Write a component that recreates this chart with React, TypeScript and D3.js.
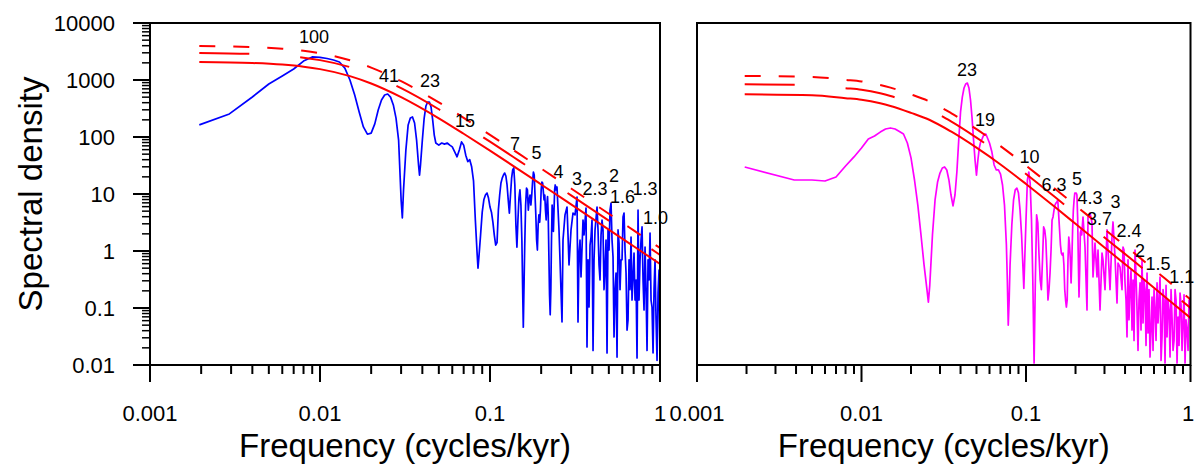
import React from 'react';
import * as d3 from 'd3';

// ---------- DATA ----------
// Left panel spectrum (frequency cycles/kyr, spectral density)
const leftSpectrum: [number, number][] = [
  [0.00195, 163], [0.00293, 254], [0.004, 504], [0.005, 850], [0.006, 1175], [0.007, 1560], [0.008, 2150],
  [0.009, 2540], [0.010, 2500], [0.011, 2380], [0.012, 2240], [0.013, 2070], [0.014, 1620], [0.015, 1000],
  [0.016, 546], [0.017, 275], [0.018, 150], [0.019, 112], [0.020, 117], [0.021, 170], [0.022, 298],
  [0.023, 446], [0.024, 546], [0.025, 568], [0.026, 500], [0.027, 365], [0.028, 215], [0.029, 88],
  [0.030, 7.9], [0.0305, 3.8], [0.031, 11.8], [0.032, 59], [0.033, 163], [0.034, 215], [0.035, 225],
  [0.036, 176], [0.037, 88], [0.038, 32], [0.0385, 21.5], [0.039, 32], [0.040, 88], [0.041, 215],
  [0.042, 350], [0.043, 411], [0.044, 411], [0.045, 336], [0.046, 200], [0.047, 108], [0.048, 78.5],
  [0.050, 72], [0.052, 78.5], [0.054, 75], [0.056, 78.5], [0.058, 72], [0.060, 67], [0.062, 55],
  [0.064, 45], [0.066, 59], [0.068, 82], [0.070, 72], [0.072, 48], [0.074, 37], [0.076, 40],
  [0.078, 30], [0.080, 17], [0.082, 3.5], [0.084, 0.9], [0.085, 0.5], [0.086, 0.76], [0.088, 1.9],
  [0.090, 4.8], [0.092, 7.9], [0.094, 9.6], [0.096, 10.4], [0.098, 8.5], [0.100, 5.9], [0.102, 4.8],
  [0.104, 3.2], [0.106, 1.9], [0.108, 1.27], [0.110, 1.4], [0.112, 5.2], [0.114, 9.6], [0.116, 15.6],
  [0.118, 19], [0.120, 21.5], [0.122, 23.3], [0.124, 20.7], [0.126, 14.4], [0.128, 7.9], [0.130, 4.6],
  [0.132, 9.6], [0.134, 19], [0.136, 26.5], [0.138, 28.6], [0.140, 14.4], [0.142, 2.9], [0.144, 1.17],
  [0.146, 3.5], [0.148, 8.5], [0.150, 11.8], [0.152, 6.4], [0.154, 1.56], [0.156, 0.138], [0.157, 0.046],
  [0.158, 0.138], [0.160, 1.17], [0.162, 6.4], [0.164, 12.7], [0.166, 11.8], [0.168, 5.2], [0.170, 7.9],
  [0.172, 9.6], [0.174, 6.4], [0.176, 9.6], [0.178, 16.2], [0.180, 24.3], [0.182, 21.5], [0.184, 9.6],
  [0.186, 4.3], [0.188, 1.56], [0.190, 1.04], [0.192, 2.9], [0.194, 4.3], [0.196, 3.2], [0.198, 5.2],
  [0.200, 11.8], [0.202, 16.2], [0.204, 15.6], [0.206, 10.9], [0.208, 7.9], [0.210, 9.6], [0.212, 5.2],
  [0.214, 3.5], [0.216, 6.4], [0.218, 9.0], [0.220, 4.3], [0.222, 0.84], [0.224, 0.17], [0.226, 0.076],
  [0.228, 0.21], [0.230, 1.56], [0.232, 6.4], [0.234, 4.3], [0.236, 2.2], [0.238, 5.2], [0.240, 11.8],
  [0.242, 14.4], [0.244, 11.8], [0.2478, 13.3], [0.2546, 2.34], [0.2581, 0.70], [0.2652, 0.057],
  [0.2688, 1.56], [0.2762, 4.3], [0.2838, 5.9], [0.2877, 1.91], [0.2916, 0.57], [0.2996, 2.34],
  [0.3078, 4.64], [0.3163, 4.3], [0.3250, 8.85], [0.3294, 0.057], [0.3339, 0.92], [0.3385, 1.56],
  [0.3431, 0.35], [0.3525, 3.5], [0.3573, 1.91], [0.3671, 5.68], [0.3721, 0.0207], [0.3772, 0.70],
  [0.3824, 0.104], [0.3876, 1.27], [0.3929, 1.76], [0.3982, 3.5], [0.4037, 0.018], [0.4092, 0.70],
  [0.4148, 2.34], [0.4262, 5.9], [0.4320, 2.34], [0.4379, 0.57], [0.4438, 0.31], [0.4499, 1.91],
  [0.4560, 3.5], [0.4622, 2.34], [0.4685, 0.21], [0.4749, 0.52], [0.4814, 1.56], [0.4880, 0.0163],
  [0.4946, 2.34], [0.5014, 1.04], [0.5082, 5.2], [0.5152, 6.95], [0.5222, 1.56], [0.5293, 0.785],
  [0.5365, 0.031], [0.5439, 0.21], [0.5513, 0.41], [0.5588, 0.0138], [0.5664, 2.34], [0.5742, 1.38],
  [0.5820, 0.21], [0.5899, 0.70], [0.5980, 0.70], [0.6061, 3.95], [0.6144, 4.64], [0.6228, 1.04],
  [0.6313, 0.41], [0.6399, 0.041], [0.6486, 0.062], [0.6575, 0.70], [0.6664, 0.21], [0.6755, 1.76],
  [0.6847, 0.138], [0.6941, 0.35], [0.7035, 0.92], [0.7131, 0.138], [0.7229, 0.31], [0.7327, 0.0133],
  [0.7427, 5.2], [0.7528, 0.138], [0.7631, 0.70], [0.7735, 1.56], [0.7841, 2.64], [0.7948, 0.31],
  [0.8056, 0.092], [0.8166, 1.17], [0.8277, 0.21], [0.8390, 0.018], [0.8505, 0.70], [0.8621, 0.31],
  [0.8738, 2.07], [0.8857, 0.138], [0.8978, 0.104], [0.9101, 0.0163], [0.9225, 0.21], [0.9351, 0.70],
  [0.9478, 0.062], [0.9608, 0.012], [0.9739, 0.183], [0.9872, 0.46], [1.0, 0.015],
];

// Right panel spectrum
const rightSpectrum: [number, number][] = [
  [0.00195, 29.8], [0.0039, 17.6], [0.005, 17.6], [0.006, 16.9], [0.007, 19.9], [0.008, 31], [0.009, 44.7],
  [0.010, 64], [0.011, 92], [0.012, 104], [0.013, 122], [0.014, 138], [0.015, 144], [0.016, 138],
  [0.017, 125], [0.018, 113], [0.019, 78.5], [0.020, 43], [0.021, 17.6], [0.022, 6.4], [0.023, 1.91],
  [0.024, 0.57], [0.025, 0.21], [0.0255, 0.127], [0.026, 0.25], [0.027, 1.91], [0.028, 7.85], [0.029, 16.2],
  [0.030, 23.3], [0.031, 28.6], [0.032, 29.8], [0.033, 26.4], [0.034, 17.6], [0.035, 9.6], [0.036, 6.2],
  [0.037, 9.6], [0.038, 24.3], [0.039, 88], [0.040, 275], [0.041, 500], [0.042, 724], [0.043, 850],
  [0.044, 885], [0.045, 724], [0.046, 446], [0.047, 215], [0.048, 88], [0.049, 39.5], [0.050, 21.5],
  [0.051, 39.5], [0.052, 64], [0.053, 82], [0.054, 92], [0.055, 104], [0.056, 113], [0.057, 113],
  [0.058, 100], [0.060, 78.5], [0.062, 55], [0.064, 32.3], [0.066, 26.4], [0.068, 26.4], [0.070, 22.4],
  [0.072, 14.4], [0.074, 6.4], [0.076, 1.27], [0.077, 0.31], [0.078, 0.050], [0.079, 0.138], [0.080, 0.57],
  [0.082, 2.86], [0.084, 7.85], [0.086, 11.8], [0.088, 12.7], [0.090, 10.4], [0.092, 5.2], [0.094, 1.91],
  [0.096, 0.46], [0.097, 0.22], [0.098, 0.57], [0.100, 3.5], [0.102, 17.6], [0.104, 24.3], [0.106, 15.6],
  [0.108, 3.5], [0.110, 0.31], [0.112, 0.0108], [0.114, 0.31], [0.116, 4.3], [0.118, 3.1], [0.120, 0.85],
  [0.122, 0.31], [0.124, 0.21], [0.126, 0.70], [0.128, 2.64], [0.130, 2.34], [0.132, 1.56], [0.134, 0.52],
  [0.136, 0.138], [0.138, 0.21], [0.140, 0.41], [0.142, 1.04], [0.144, 3.5], [0.146, 3.95], [0.148, 5.2],
  [0.150, 6.4], [0.152, 6.95], [0.154, 7.2], [0.156, 7.85], [0.158, 4.3], [0.160, 2.34], [0.162, 1.27],
  [0.164, 0.92], [0.166, 0.85], [0.168, 0.92], [0.170, 0.57], [0.172, 0.21], [0.174, 0.138], [0.176, 0.104],
  [0.178, 0.138], [0.180, 0.70], [0.182, 1.76], [0.184, 1.27], [0.186, 0.70], [0.188, 0.275], [0.190, 0.70],
  [0.192, 2.34], [0.194, 5.2], [0.196, 7.85], [0.198, 10.4], [0.200, 10.4], [0.202, 10.4], [0.204, 9.6],
  [0.206, 3.95], [0.208, 0.70], [0.210, 0.156], [0.212, 0.46], [0.214, 2.07], [0.216, 2.34], [0.218, 1.91],
  [0.2221, 3.95], [0.2284, 1.17], [0.2349, 0.092], [0.2382, 3.95], [0.2450, 4.64], [0.2519, 3.1],
  [0.2555, 0.35], [0.2627, 1.38], [0.2702, 0.35], [0.2740, 1.04], [0.2818, 0.092], [0.2898, 0.92],
  [0.2939, 0.70], [0.3022, 0.21], [0.3108, 2.34], [0.3152, 1.04], [0.3241, 0.21], [0.3333, 1.76],
  [0.3380, 3.23], [0.3476, 0.785], [0.3575, 0.122], [0.3626, 0.615], [0.3728, 0.52], [0.3834, 0.21],
  [0.3888, 1.17], [0.3943, 1.04], [0.3999, 0.275], [0.4055, 0.138], [0.4112, 0.031], [0.4170, 0.70],
  [0.4229, 0.062], [0.4289, 0.21], [0.4349, 0.46], [0.4411, 0.041], [0.4473, 0.31], [0.4536, 0.027],
  [0.4600, 1.04], [0.4665, 0.38], [0.4731, 0.092], [0.4797, 0.018], [0.4865, 0.138], [0.4934, 0.275],
  [0.5003, 0.041], [0.5074, 0.70], [0.5145, 0.0546], [0.5218, 0.31], [0.5291, 0.21], [0.5366, 0.022],
  [0.5442, 0.41], [0.5519, 0.0364], [0.5596, 0.21], [0.5675, 0.0138], [0.5755, 0.041], [0.5837, 0.156],
  [0.5919, 0.018], [0.6002, 0.21], [0.6087, 0.092], [0.6173, 0.027], [0.6260, 0.275], [0.6348, 0.0546],
  [0.6438, 0.138], [0.6529, 0.35], [0.6621, 0.012], [0.6714, 0.031], [0.6809, 0.21], [0.6905, 0.138],
  [0.7002, 0.0108], [0.7101, 0.25], [0.7201, 0.031], [0.7303, 0.138], [0.7406, 0.092], [0.7510, 0.0138],
  [0.7616, 0.21], [0.7723, 0.0695], [0.7832, 0.018], [0.7943, 0.027], [0.8055, 0.21], [0.8168, 0.138],
  [0.8283, 0.0108], [0.8400, 0.0695], [0.8519, 0.022], [0.8639, 0.183], [0.8761, 0.113], [0.8884, 0.018],
  [0.9009, 0.0546], [0.9136, 0.17], [0.9265, 0.0108], [0.9396, 0.062], [0.9528, 0.041], [0.9663, 0.018],
  [0.9799, 0.138], [0.9937, 0.092],
];

// Red-noise background and confidence levels
const leftRedFreq = [0.00195, 0.004, 0.006, 0.008, 0.01, 0.015, 0.02, 0.03, 0.05, 0.07, 0.1, 0.15, 0.2, 0.3, 0.5, 0.7, 1.0];
const leftRedLow = [2072, 1987, 1862, 1712, 1551, 1169, 869, 501, 213, 114, 57.6, 26.0, 14.7, 6.56, 2.37, 1.21, 0.593];
const leftRedMid = [2984, 2861, 2681, 2465, 2233, 1683, 1251, 721, 307, 164, 82.9, 37.4, 21.2, 9.45, 3.41, 1.74, 0.854];
const leftRedUp = [3937, 3775, 3538, 3253, 2947, 2221, 1651, 952, 405, 217, 109, 49.4, 27.9, 12.5, 4.50, 2.30, 1.13];

const rightRedFreq = [0.00195, 0.005, 0.008, 0.01, 0.013, 0.015, 0.02, 0.026, 0.035, 0.05, 0.07, 0.1, 0.15, 0.2, 0.3, 0.5, 0.7, 1.0];
const rightRedLow = [561, 540, 480, 450, 390, 350, 265, 199, 125, 65, 33, 15, 5.9, 3.0, 1.15, 0.35, 0.156, 0.067];
const rightRedMid = [842, 810, 720, 675, 585, 525, 398, 299, 188, 97.5, 49.5, 22.5, 8.85, 4.5, 1.73, 0.525, 0.234, 0.1];
const rightRedUp = [1178, 1134, 1008, 945, 819, 735, 557, 418, 263, 137, 69.3, 31.5, 12.4, 6.3, 2.42, 0.735, 0.328, 0.141];

// Peak period labels (kyr), anchored at frequency / density
const leftPeakLabels = [
  { text: '100', f: 0.00922, v: 4510 }, { text: '41', f: 0.0255, v: 933 }, { text: '23', f: 0.0444, v: 753 },
  { text: '15', f: 0.0713, v: 152 }, { text: '7', f: 0.1403, v: 59 }, { text: '5', f: 0.1877, v: 41 },
  { text: '4', f: 0.253, v: 19.1 }, { text: '3', f: 0.325, v: 14.4 }, { text: '2.3', f: 0.415, v: 9.6 },
  { text: '2', f: 0.536, v: 16.4 }, { text: '1.6', f: 0.601, v: 6.95 }, { text: '1.3', f: 0.817, v: 9.6 },
  { text: '1.0', f: 0.942, v: 2.98 },
];
const rightPeakLabels = [
  { text: '23', f: 0.0438, v: 1175 }, { text: '19', f: 0.0563, v: 156 }, { text: '10', f: 0.105, v: 35.4 },
  { text: '6.3', f: 0.148, v: 11.4 }, { text: '5', f: 0.204, v: 14.4 }, { text: '4.3', f: 0.245, v: 6.68 },
  { text: '3', f: 0.350, v: 5.6 }, { text: '3.7', f: 0.280, v: 2.86 }, { text: '2.4', f: 0.423, v: 1.78 },
  { text: '2', f: 0.493, v: 0.80 }, { text: '1.5', f: 0.634, v: 0.46 }, { text: '1.1', f: 0.885, v: 0.275 },
];

const xTickValues = [0.001, 0.01, 0.1, 1];
const xTickLabels = ['0.001', '0.01', '0.1', '1'];
const yTickValues = [0.01, 0.1, 1, 10, 100, 1000, 10000];
const yTickLabels = ['0.01', '0.1', '1', '10', '100', '1000', '10000'];

const FONT = "'Liberation Sans', Arial, Helvetica, sans-serif";

type PanelProps = {
  id: string;
  x0: number; x1: number;
  spectrum: [number, number][];
  color: string;
  redFreq: number[]; redLow: number[]; redMid: number[]; redUp: number[];
  labels: { text: string; f: number; v: number }[];
  showY: boolean;
};

const TOP = 23;
const BOTTOM = 365;

function Panel(p: PanelProps) {
  const x = d3.scaleLog().domain([0.001, 1]).range([p.x0, p.x1]);
  const y = d3.scaleLog().domain([0.01, 10000]).range([BOTTOM, TOP]);
  const redLine = d3.line<[number, number]>().x((d) => x(d[0])).y((d) => y(d[1])).curve(d3.curveMonotoneX);
  const specLine = d3.line<[number, number]>().x((d) => x(d[0])).y((d) => y(d[1])).curve(d3.curveLinear);
  const zip = (fs: number[], vs: number[]) => fs.map((f, i) => [f, vs[i]] as [number, number]);
  const xTicks = x.ticks();
  const yTicks = y.ticks();
  const isMajor = (v: number) => Math.abs(Math.log10(v) - Math.round(Math.log10(v))) < 1e-6;
  const cx = (p.x0 + p.x1) / 2;
  const W = 1195;
  return (
    <g>
      <defs>
        <clipPath id={`clip-${p.id}`}>
          <rect x={p.x0} y={TOP} width={p.x1 - p.x0} height={BOTTOM - TOP} />
        </clipPath>
      </defs>
      <g clipPath={`url(#clip-${p.id})`}>
        <path d={specLine(p.spectrum) || ''} fill="none" stroke={p.color} strokeWidth={1.7} strokeLinejoin="round" />
        <path d={redLine(zip(p.redFreq, p.redLow)) || ''} fill="none" stroke="#ff0000" strokeWidth={2} />
        <path d={redLine(zip(p.redFreq, p.redMid)) || ''} fill="none" stroke="#ff0000" strokeWidth={2} strokeDasharray="50 51" />
        <path d={redLine(zip(p.redFreq, p.redUp)) || ''} fill="none" stroke="#ff0000" strokeWidth={2} strokeDasharray="16 18" />
      </g>
      {/* frame */}
      <rect x={p.x0} y={TOP} width={p.x1 - p.x0} height={BOTTOM - TOP} fill="none" stroke="#000" strokeWidth={2} />
      {/* x ticks */}
      {xTicks.map((t, i) => (
        <line key={`xt${i}`} x1={x(t)} x2={x(t)} y1={BOTTOM} y2={BOTTOM + (isMajor(t) ? 17 : 9)} stroke="#000" strokeWidth={2} />
      ))}
      {xTickValues.map((t, i) => (
        <text key={`xl${i}`} x={Math.min(x(t), W - 7)} y={421} textAnchor="middle" fontSize={22} fontFamily={FONT} fill="#000">{xTickLabels[i]}</text>
      ))}
      {p.showY && yTicks.map((t, i) => (
        <line key={`yt${i}`} x1={p.x0 - (isMajor(t) ? 17 : 8)} x2={p.x0} y1={y(t)} y2={y(t)} stroke="#000" strokeWidth={isMajor(t) ? 2 : 1.5} />
      ))}
      {p.showY && yTickValues.map((t, i) => (
        <text key={`yl${i}`} x={115} y={y(t) + 8} textAnchor="end" fontSize={22} fontFamily={FONT} fill="#000">{yTickLabels[i]}</text>
      ))}
      {p.labels.map((l, i) => (
        <text key={`pl${i}`} x={x(l.f)} y={y(l.v)} textAnchor="middle" fontSize={18} fontFamily={FONT} fill="#000">{l.text}</text>
      ))}
      <text x={cx} y={457} textAnchor="middle" fontSize={33} fontFamily={FONT} fill="#000">Frequency (cycles/kyr)</text>
    </g>
  );
}

export default function App() {
  return (
    <svg width={1195} height={464} style={{ position: 'absolute', left: 0, top: 0, background: '#fff' }}>
      <rect x={0} y={0} width={1195} height={464} fill="#fff" />
      <Panel id="L" x0={150} x1={660} spectrum={leftSpectrum} color="#0000ff"
        redFreq={leftRedFreq} redLow={leftRedLow} redMid={leftRedMid} redUp={leftRedUp}
        labels={leftPeakLabels} showY={true} />
      <Panel id="R" x0={697} x1={1190.5} spectrum={rightSpectrum} color="#ff00ff"
        redFreq={rightRedFreq} redLow={rightRedLow} redMid={rightRedMid} redUp={rightRedUp}
        labels={rightPeakLabels} showY={false} />
      <text transform="translate(42,194) rotate(-90)" textAnchor="middle" fontSize={33} fontFamily={FONT} fill="#000">Spectral density</text>
    </svg>
  );
}
